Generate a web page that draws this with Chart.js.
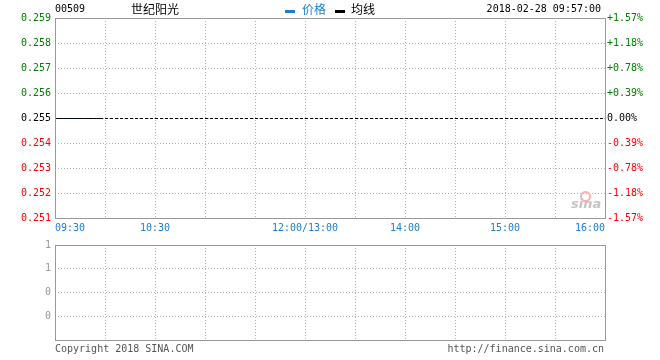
<!DOCTYPE html>
<html>
<head>
<meta charset="utf-8">
<script src="https://cdn.jsdelivr.net/npm/chart.js@4/dist/chart.umd.min.js"></script>
<style>
    body { margin: 0; background: #fff; width: 660px; height: 360px; overflow: hidden; position: relative; font-family: "DejaVu Sans Mono", monospace; }
    canvas { position: absolute; left: 0; }
    .t { position: absolute; white-space: nowrap; font-size: 10px; line-height: 12px; }
    .cjk { font-family: "Noto Sans CJK SC", sans-serif; font-size: 12px; line-height: 14px; }
    .dash { position: absolute; width: 10px; height: 3px; }
</style>
</head>
<body>
<canvas id="priceChart" width="660" height="235" style="top:0"></canvas>
<canvas id="volChart" width="660" height="125" style="top:235px"></canvas>

<div class="t" style="left:55px;top:3px;color:#000">00509</div>
<div class="t cjk" style="left:131px;top:2px;color:#000">世纪阳光</div>
<div class="dash" style="left:285px;top:10px;background:#1a7fcf"></div>
<div class="t cjk" style="left:302px;top:2px;color:#1a7fcf">价格</div>
<div class="dash" style="left:335px;top:10px;background:#000"></div>
<div class="t cjk" style="left:351px;top:2px;color:#000">均线</div>
<div class="t" style="right:59px;top:3px;color:#000">2018-02-28 09:57:00</div>
<div style="position:absolute;left:580px;top:191px;width:7px;height:7px;border:2px solid #f4b4b4;border-radius:50%"></div>
<div class="t" style="left:571px;top:198px;color:#c4c4c4;font-family:'DejaVu Sans';font-style:italic;font-weight:bold;font-size:13px">sina</div>
<div class="t" style="left:55px;top:343px;color:#555">Copyright 2018 SINA.COM</div>
<div class="t" style="right:56px;top:343px;color:#555">http://finance.sina.com.cn</div>

<script>
// datos del gráfico
const prevClose = 0.255;
const times = ['09:30', '09:31', '09:32', '09:33', '09:34', '09:35', '09:36', '09:37', '09:38', '09:39',
    '09:40', '09:41', '09:42', '09:43', '09:44', '09:45', '09:46', '09:47', '09:48', '09:49',
    '09:50', '09:51', '09:52', '09:53', '09:54', '09:55', '09:56', '09:57'];
const prices = [0.255, 0.255, 0.255, 0.255, 0.255, 0.255, 0.255, 0.255, 0.255, 0.255,
    0.255, 0.255, 0.255, 0.255, 0.255, 0.255, 0.255, 0.255, 0.255, 0.255,
    0.255, 0.255, 0.255, 0.255, 0.255, 0.255, 0.255, 0.255];
const avgPrices = [0.255, 0.255, 0.255, 0.255, 0.255, 0.255, 0.255, 0.255, 0.255, 0.255,
    0.255, 0.255, 0.255, 0.255, 0.255, 0.255, 0.255, 0.255, 0.255, 0.255,
    0.255, 0.255, 0.255, 0.255, 0.255, 0.255, 0.255, 0.255];
const volumes = [0, 0, 0, 0, 0, 0, 0, 0, 0, 0,
    0, 0, 0, 0, 0, 0, 0, 0, 0, 0,
    0, 0, 0, 0, 0, 0, 0, 0];
const sessionTimes = ['09:30', '16:00'];
const gridTimes = ['09:30', '10:00', '10:30', '11:00', '11:30', '12:00/13:00',
    '13:30', '14:00', '14:30', '15:00', '15:30', '16:00'];
const axisLabels = ['09:30', '10:30', '12:00/13:00', '14:00', '15:00', '16:00'];
const priceTicks = [0.251, 0.252, 0.253, 0.254, 0.255, 0.256, 0.257, 0.258, 0.259];
const pctLabels = ['-1.57%', '-1.18%', '-0.78%', '-0.39%', '0.00%', '+0.39%', '+0.78%', '+1.18%', '+1.57%'];
const volTicks = [0, 0.25, 0.5, 0.75, 1];
const volLabels = ['', '0', '0', '1', '1'];

const GREEN = '#008000';
const RED = '#ff0000';
const GRID = '#b4b4b4';
const mono = { family: 'DejaVu Sans Mono', size: 10 };

// minutos de negociación desde la apertura (sin la pausa de mediodía)
function slot(t) {
    const [h, m] = t.split('/')[0].split(':').map(Number);
    let min = h * 60 + m - 570;
    if (min > 150) min -= 60;
    return min;
}

// marco gris y líneas nítidas
const frame = {
    id: 'frame',
    beforeDatasetsDraw(chart) {
        chart.ctx.save();
        chart.ctx.translate(0, 0.5);
    },
    afterDatasetsDraw(chart) {
        chart.ctx.restore();
    },
    afterDraw(chart) {
        const { ctx, chartArea: a } = chart;
        ctx.save();
        ctx.strokeStyle = '#999';
        ctx.lineWidth = 1;
        ctx.strokeRect(a.left + 0.5, a.top + 0.5, a.right - a.left, a.bottom - a.top);
        ctx.restore();
    }
};

function timeScale(showLabels, height) {
    return {
        type: 'linear',
        offset: false,
        min: slot(sessionTimes[0]),
        max: slot(sessionTimes[1]),
        afterBuildTicks: (s) => { s.ticks = gridTimes.map((t) => ({ value: slot(t) })); },
        afterFit: (s) => { s.height = height; },
        grid: { color: GRID, drawTicks: false, offset: false },
        border: { display: false, dash: [1, 2] },
        ticks: {
            display: showLabels,
            autoSkip: false,
            maxRotation: 0,
            align: 'inner',
            padding: 4,
            color: '#1a7fcf',
            font: mono,
            callback: (v) => axisLabels.find((l) => slot(l) === v) || '',
        },
    };
}

function tickColor(ctx) {
    const v = ctx.tick.value;
    if (Math.abs(v - prevClose) < 1e-9) return '#000';
    return v > prevClose ? GREEN : RED;
}

const pricePoints = (arr) => times.map((t, i) => ({ x: slot(t), y: arr[i] }));

new Chart(document.getElementById('priceChart').getContext('2d'), {
    type: 'line',
    data: {
        datasets: [
            { label: '均线', data: pricePoints(avgPrices), borderColor: '#000', borderWidth: 1, pointRadius: 0, order: 0 },
            { label: '价格', data: pricePoints(prices), borderColor: '#1a7fcf', borderWidth: 1, pointRadius: 0, order: 1 },
            {
                label: 'prev', data: sessionTimes.map((t) => ({ x: slot(t), y: prevClose })),
                borderColor: '#000', borderWidth: 1, borderDash: [3, 2], pointRadius: 0, order: 2,
            },
        ],
    },
    options: {
        responsive: false,
        animation: false,
        devicePixelRatio: 1,
        layout: { padding: { top: 18 } },
        plugins: { legend: { display: false }, tooltip: { enabled: false } },
        scales: {
            x: timeScale(true, 17),
            y: {
                position: 'left',
                min: priceTicks[0],
                max: priceTicks[priceTicks.length - 1],
                afterBuildTicks: (s) => { s.ticks = priceTicks.map((v) => ({ value: v })); },
                afterFit: (s) => { s.width = 55; },
                grid: { color: GRID, drawTicks: false },
                border: { display: false, dash: [1, 2] },
                ticks: { padding: 4, font: mono, color: tickColor, callback: (v) => v.toFixed(3) },
            },
            y1: {
                position: 'right',
                min: priceTicks[0],
                max: priceTicks[priceTicks.length - 1],
                afterBuildTicks: (s) => { s.ticks = priceTicks.map((v) => ({ value: v })); },
                afterFit: (s) => { s.width = 55; },
                grid: { drawOnChartArea: false, drawTicks: false },
                border: { display: false },
                ticks: { padding: 2, font: mono, color: tickColor, callback: (v, i) => pctLabels[i] },
            },
        },
    },
    plugins: [frame],
});

new Chart(document.getElementById('volChart').getContext('2d'), {
    type: 'bar',
    data: {
        datasets: [{
            label: 'vol',
            data: times.map((t, i) => ({ x: slot(t), y: volumes[i] })),
            backgroundColor: '#1a7fcf',
            borderWidth: 0,
        }],
    },
    options: {
        responsive: false,
        animation: false,
        devicePixelRatio: 1,
        layout: { padding: { top: 5, right: 55 } },
        plugins: { legend: { display: false }, tooltip: { enabled: false } },
        scales: {
            x: timeScale(false, 20),
            y: {
                min: volTicks[0],
                max: volTicks[volTicks.length - 1],
                afterBuildTicks: (s) => { s.ticks = volTicks.map((v) => ({ value: v })); },
                afterFit: (s) => { s.width = 55; },
                grid: { color: GRID, drawTicks: false },
                border: { display: false, dash: [1, 2] },
                ticks: { padding: 4, font: mono, color: '#999', callback: (v, i) => volLabels[i] },
            },
        },
    },
    plugins: [frame],
});
</script>
</body>
</html>
